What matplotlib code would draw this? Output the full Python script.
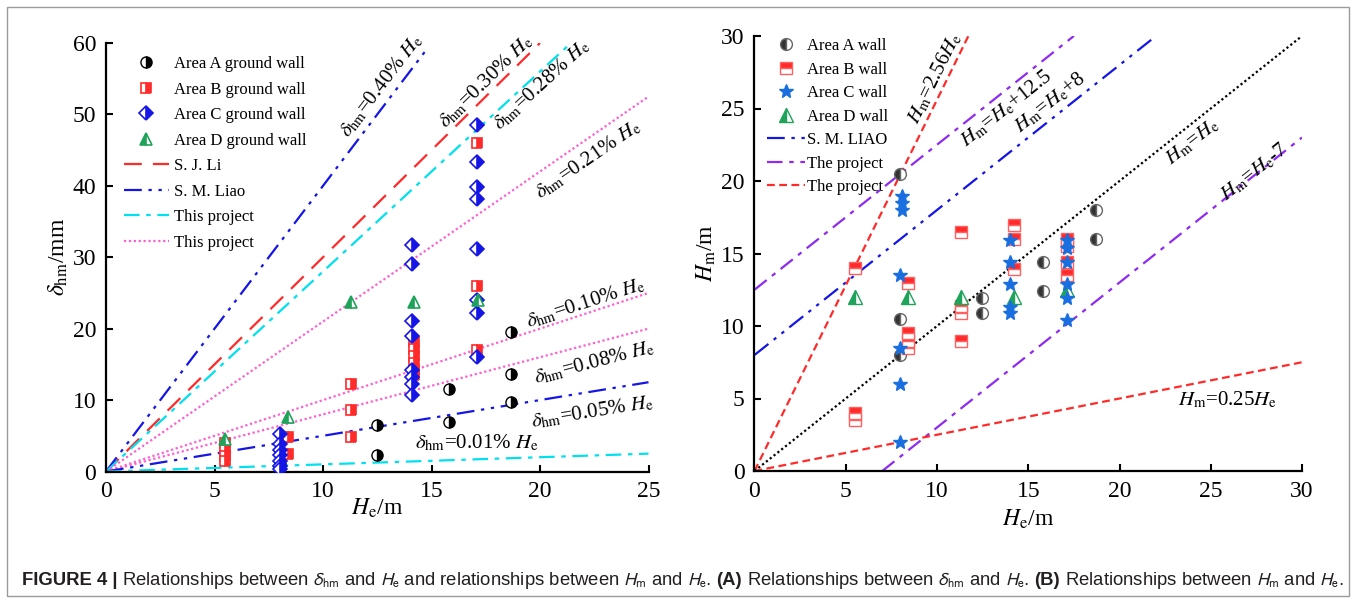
import numpy as np
import matplotlib
matplotlib.use("Agg")
import matplotlib.pyplot as plt
from matplotlib import font_manager
from matplotlib.patches import Rectangle

plt.rcParams['font.family'] = ['Liberation Serif', 'DejaVu Serif']
plt.rcParams['mathtext.fontset'] = 'stix'

# ---------------- data: (A) delta_hm vs He ----------------
a_he = [8.0, 8.0, 12.5, 12.5, 15.8, 15.8, 18.65, 18.65, 18.65]
a_dh = [1.0, 2.5, 6.5, 2.3, 11.6, 7.0, 19.5, 13.6, 9.8]

b_he = [5.5, 5.5, 5.5, 5.5, 8.4, 8.4, 11.3, 11.3, 11.3,
        14.2, 14.2, 14.2, 14.2, 14.2, 14.2, 17.1, 17.1, 17.1]
b_dh = [4.0, 3.0, 2.2, 1.5, 4.8, 2.5, 12.3, 8.6, 4.8,
        18.2, 17.2, 16.2, 15.2, 14.2, 13.5, 46.0, 26.0, 17.0]

c_he = [8.0, 8.0, 8.0, 8.0, 8.0, 8.0, 8.0,
        14.1, 14.1, 14.1, 14.1, 14.1, 14.1, 14.1, 14.1,
        17.1, 17.1, 17.1, 17.1, 17.1, 17.1, 17.1, 17.1]
c_dh = [5.3, 3.8, 3.0, 2.3, 1.5, 0.8, 0.3,
        31.7, 29.0, 21.1, 19.0, 14.2, 13.3, 12.3, 10.7,
        48.5, 43.4, 39.8, 38.1, 31.1, 24.0, 22.2, 16.1]

d_he = [5.5, 8.4, 11.3, 14.2, 17.15]
d_dh = [4.6, 7.7, 23.8, 23.8, 24.0]

# reference lines delta = k * He (k in %): (ratio, x_end)
li_ratio, li_end = 0.30, 20.0
liao_ratio, liao_end = 0.40, 14.8
proj_ratio, proj_end = 0.28, 21.3
pink_ratios = [0.21, 0.10, 0.08]
liao_low_ratio = 0.05
proj_low_ratio = 0.01

# ---------------- data: (B) Hm vs He ----------------
ra_he = [8.0, 8.0, 8.0, 12.45, 12.45, 15.8, 15.8, 18.7, 18.7]
ra_hm = [20.5, 10.5, 8.0, 11.9, 10.9, 14.4, 12.4, 18.0, 16.0]

rb_he = [5.5, 5.5, 5.5, 8.4, 8.4, 8.4, 8.4, 11.3, 11.3, 11.3, 11.3,
         14.2, 14.2, 14.2, 17.1, 17.1, 17.1, 17.1]
rb_hm = [14.0, 4.0, 3.5, 13.0, 9.5, 9.0, 8.5, 16.5, 11.4, 10.9, 9.0,
         17.0, 16.0, 13.9, 16.0, 15.5, 14.4, 13.5]

rc_he = [8.1, 8.1, 8.1, 8.0, 8.0, 8.0, 8.0,
         14.0, 14.0, 14.0, 14.0, 14.0,
         17.1, 17.1, 17.1, 17.1, 17.1, 17.1]
rc_hm = [19.0, 18.5, 18.0, 13.5, 8.5, 6.0, 2.0,
         15.9, 14.4, 12.9, 11.3, 10.9,
         15.9, 15.4, 14.4, 12.9, 11.9, 10.4]

rd_he = [5.5, 8.4, 11.3, 14.2, 17.1]
rd_hm = [12.0, 12.0, 12.0, 12.0, 12.5]

W, H = 1356, 598
fig = plt.figure(figsize=(W / 100, H / 100), dpi=100)

BLUE = '#1515e6'
RED = '#ff2a2a'
CYAN = '#00e0ee'
PINK = '#ff5fd0'
GREEN = '#1fa35a'
PURPLE = '#8f2bf0'


def style_axes(ax):
    for s in ['top', 'right']:
        ax.spines[s].set_visible(False)
    for s in ['left', 'bottom']:
        ax.spines[s].set_linewidth(1.6)
    ax.tick_params(direction='in', length=5, width=1.5, labelsize=17, pad=7)


def angle(ax, slope):
    p1 = ax.transData.transform((0, 0))
    p2 = ax.transData.transform((1, slope))
    return np.degrees(np.arctan2(p2[1] - p1[1], p2[0] - p1[0]))


# ================= panel A =================
ax1 = fig.add_axes([106 / W, 126.5 / H, 542.5 / W, 428.5 / H])
ax1.set_xlim(0, 25)
ax1.set_ylim(0, 60)
style_axes(ax1)
ax1.set_xticks([0, 5, 10, 15, 20, 25])
ax1.set_yticks([0, 10, 20, 30, 40, 50, 60])

ms = 8
ax1.plot(a_he, a_dh, ls='none', marker='o', ms=ms, fillstyle='right',
         mfc='black', mfcalt='white', mec='black', mew=1, label='Area A ground wall', zorder=5)
ax1.plot(b_he, b_dh, ls='none', marker='s', ms=ms - 1, fillstyle='right',
         mfc=RED, mfcalt='white', mec=RED, mew=1.2, label='Area B ground wall', zorder=5)
ax1.plot(c_he, c_dh, ls='none', marker='D', ms=ms - 1, fillstyle='right',
         mfc=BLUE, mfcalt='white', mec=BLUE, mew=1.2, label='Area C ground wall', zorder=5)
ax1.plot(d_he, d_dh, ls='none', marker='^', ms=ms, fillstyle='left',
         mfc=GREEN, mfcalt='white', mec=GREEN, mew=1.2, label='Area D ground wall', zorder=5)

x = np.array([0, li_end])
ax1.plot(x, li_ratio * 10 * x, color=RED, lw=1.6, ls=(0, (8, 5)), label='S. J. Li')
x = np.array([0, liao_end])
ax1.plot(x, liao_ratio * 10 * x, color=BLUE, lw=1.6, ls=(0, (8, 3, 1.5, 3, 1.5, 3)),
         label='S. M. Liao')
x = np.array([0, proj_end])
ax1.plot(x, proj_ratio * 10 * x, color=CYAN, lw=1.6, ls=(0, (7, 3, 2, 3)), label='This project')
x = np.array([0, 25])
for i, r in enumerate(pink_ratios):
    ax1.plot(x, r * 10 * x, color=PINK, lw=1.6, ls=(0, (1, 1.2)),
             label='This project' if i == 0 else None)
ax1.plot(x, liao_low_ratio * 10 * x, color=BLUE, lw=1.6, ls=(0, (8, 3, 1.5, 3, 1.5, 3)))
ax1.plot(x, proj_low_ratio * 10 * x, color=CYAN, lw=1.6, ls=(0, (7, 3, 2, 3)))

ax1.set_xlabel('$H_{\\rm e}$/m', fontsize=17, labelpad=-4)
ax1.set_ylabel('$\\delta_{\\rm hm}$/mm', fontsize=17, labelpad=2)

leg1 = ax1.legend(loc='upper left', bbox_to_anchor=(0.02, 0.985), frameon=False,
                  fontsize=12, handlelength=2.7, handletextpad=0.3, labelspacing=0.57,
                  borderaxespad=0)

a_labels = [
    ('$\\delta_{\\rm hm}$=0.40% $H_{\\rm e}$', 12.7, 54.0, 0.40),
    ('$\\delta_{\\rm hm}$=0.30% $H_{\\rm e}$', 17.5, 54.6, 0.30),
    ('$\\delta_{\\rm hm}$=0.28% $H_{\\rm e}$', 20.05, 54.2, 0.28),
    ('$\\delta_{\\rm hm}$=0.21% $H_{\\rm e}$', 22.2, 43.6, 0.21),
    ('$\\delta_{\\rm hm}$=0.10% $H_{\\rm e}$', 22.1, 23.6, 0.10),
    ('$\\delta_{\\rm hm}$=0.08% $H_{\\rm e}$', 22.5, 15.3, 0.08),
    ('$\\delta_{\\rm hm}$=0.05% $H_{\\rm e}$', 22.4, 8.3, 0.05),
]
for s, tx, ty, r in a_labels:
    ax1.text(tx, ty, s, fontsize=15, rotation=angle(ax1, r * 10),
             rotation_mode='anchor', ha='center', va='center')
ax1.text(17.1, 4.0, '$\\delta_{\\rm hm}$=0.01% $H_{\\rm e}$', fontsize=15,
         ha='center', va='center')

# ================= panel B =================
ax2 = fig.add_axes([754.5 / W, 127 / H, 547.5 / W, 435 / H])
ax2.set_xlim(0, 30)
ax2.set_ylim(0, 30)
style_axes(ax2)
ax2.set_xticks([0, 5, 10, 15, 20, 25, 30])
ax2.set_yticks([0, 5, 10, 15, 20, 25, 30])

ax2.plot(ra_he, ra_hm, ls='none', marker='o', ms=8.5, fillstyle='left',
         mfc='#333333', mfcalt='white', mec='#666666', mew=1, label='Area A wall', zorder=5)
ax2.plot(rb_he, rb_hm, ls='none', marker='s', ms=8, fillstyle='top',
         mfc=RED, mfcalt='white', mec='#ff6060', mew=1, label='Area B wall', zorder=5)
ax2.plot(rc_he, rc_hm, ls='none', marker='*', ms=10, color='#1a6fe0',
         mec='#1a6fe0', label='Area C wall', zorder=6)
ax2.plot(rd_he, rd_hm, ls='none', marker='^', ms=9.5, fillstyle='left',
         mfc=GREEN, mfcalt='white', mec=GREEN, mew=1, label='Area D wall', zorder=5)

x = np.array([0, 22])
ax2.plot(x, x + 8, color=BLUE, lw=1.6, ls=(0, (8, 3, 1.5, 3, 1.5, 3)), label='S. M. LIAO')
x = np.array([0, 17.5])
ax2.plot(x, x + 12.5, color=PURPLE, lw=1.6, ls=(0, (7, 3, 2, 3)), label='The project')
x = np.array([0, 30 / 2.56])
ax2.plot(x, 2.56 * x, color=RED, lw=1.6, ls=(0, (3.5, 2)), label='The project')
x = np.array([7, 30])
ax2.plot(x, x - 7, color=PURPLE, lw=1.6, ls=(0, (7, 3, 2, 3)))
x = np.array([0, 30])
ax2.plot(x, 0.25 * x, color=RED, lw=1.6, ls=(0, (3.5, 2)))
ax2.plot(x, x, color='black', lw=1.6, ls=(0, (1, 1.2)))

ax2.set_xlabel('$H_{\\rm e}$/m', fontsize=17, labelpad=4)
ax2.set_ylabel('$H_{\\rm m}$/m', fontsize=17, labelpad=2)

leg2 = ax2.legend(loc='upper left', bbox_to_anchor=(0.01, 1.01), frameon=False,
                  fontsize=12, handlelength=2.3, handletextpad=0.1, labelspacing=0.45,
                  borderaxespad=0)

b_labels = [
    ('$H_{\\rm m}$=2.56$H_{\\rm e}$', 9.9, 27.1, 2.56),
    ('$H_{\\rm m}$=$H_{\\rm e}$+12.5', 13.8, 25.0, 1.0),
    ('$H_{\\rm m}$=$H_{\\rm e}$+8', 16.2, 25.4, 1.0),
    ('$H_{\\rm m}$=$H_{\\rm e}$', 24.0, 22.7, 1.0),
    ('$H_{\\rm m}$=$H_{\\rm e}$-7', 27.4, 20.6, 1.0),
]
for s, tx, ty, r in b_labels:
    ax2.text(tx, ty, s, fontsize=15, rotation=angle(ax2, r),
             rotation_mode='anchor', ha='center', va='center')
ax2.text(25.9, 4.9, '$H_{\\rm m}$=0.25$H_{\\rm e}$', fontsize=15, ha='center', va='center')

# ================= border and caption =================
fig.patches.append(Rectangle((7 / W, 2 / H), 1342 / W, 589 / H, transform=fig.transFigure,
                             fill=False, edgecolor='#9a9a9a', lw=1))

names = {f.name for f in font_manager.fontManager.ttflist}
cap_font = 'Liberation Sans Narrow' if 'Liberation Sans Narrow' in names else 'Liberation Sans'
cap_size = 15.5 if cap_font == 'Liberation Sans Narrow' else 13.3

caption = [
    ('FIGURE 4 |', 'bold'),
    ('Relationships between $\\delta_{\\rm hm}$ and $H_{\\rm e}$ and relationships between '
     '$H_{\\rm m}$ and $H_{\\rm e}$.', 'normal'),
    ('(A)', 'bold'),
    ('Relationships between $\\delta_{\\rm hm}$ and $H_{\\rm e}$.', 'normal'),
    ('(B)', 'bold'),
    ('Relationships between $H_{\\rm m}$ and $H_{\\rm e}$.', 'normal'),
]
renderer = fig.canvas.get_renderer()
xpos = 22
for s, w in caption:
    t = fig.text(xpos / W, (H - 585) / H, s, fontsize=cap_size, fontweight=w,
                 family=cap_font, math_fontfamily='stixsans', color='#231f20',
                 ha='left', va='baseline')
    xpos += t.get_window_extent(renderer=renderer).width + 5

fig.savefig('out.png', dpi=100)
